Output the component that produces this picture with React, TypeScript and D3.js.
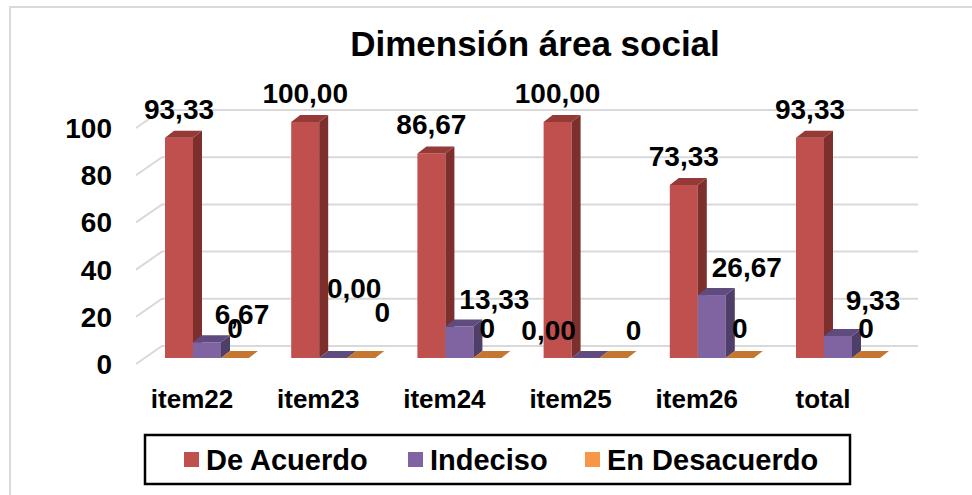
import React from "react";
import * as d3 from "d3";

const categories = ["item22", "item23", "item24", "item25", "item26", "total"];
const deAcuerdo = [93.33, 100.0, 86.67, 100.0, 73.33, 93.33];
const indeciso = [6.67, 0.0, 13.33, 0.0, 26.67, 9.33];
const enDesacuerdo = [0, 0, 0, 0, 0, 0];
const yTicks = [0, 20, 40, 60, 80, 100];
const seriesNames = ["De Acuerdo", "Indeciso", "En Desacuerdo"];

const W = 972;
const H = 495;
const FONT = "'Liberation Sans', Arial, sans-serif";

const colors = [
  { front: "#C0504D", side: "#7D2F2D", top: "#963A37", legend: "#C0504D" },
  { front: "#8064A2", side: "#4F3F68", top: "#5F4B7D", legend: "#8064A2" },
  { front: "#F79646", side: "#B8672A", top: "#C5762F", legend: "#F79646" },
];

// manually dragged label nudges (layout, like in the source chart)
const labelNudge: Record<string, [number, number]> = {
  "item23|1": [-14, -42],
  "item23|2": [21, -16],
  "item25|1": [-72, 0],
  "item25|2": [20, 2],
  "total|1": [0, -8],
};

const fmt2 = (v: number) => v.toFixed(2).replace(".", ",");

export default function App() {
  const x = d3
    .scaleBand<string>()
    .domain(categories)
    .range([128.9, 886.1])
    .padding(0);
  const y = d3.scaleLinear().domain([0, 100]).range([358, 122]);
  const barW = 28;
  const dx = 9;
  const dy = -7;
  const wallOff = -12;
  const base = y(0);

  const series = [deAcuerdo, indeciso, enDesacuerdo];
  const labelFmt = [fmt2, fmt2, (v: number) => String(v)];

  const bars: JSX.Element[] = [];
  const labels: JSX.Element[] = [];

  categories.forEach((c, i) => {
    const cx = (x(c) as number) + x.bandwidth() / 2;
    series.forEach((s, si) => {
      const v = s[i];
      const bx = cx - 27 + si * barW;
      const yt = y(v);
      const col = colors[si];
      const key = `${c}-${si}`;
      if (v > 0) {
        bars.push(
          <g key={key}>
            <rect x={bx} y={yt} width={barW} height={base - yt} fill={col.front} />
            <polygon
              points={`${bx + barW},${yt} ${bx + barW + dx},${yt + dy} ${bx + barW + dx},${base + dy} ${bx + barW},${base}`}
              fill={col.side}
            />
            <polygon
              points={`${bx},${yt} ${bx + dx},${yt + dy} ${bx + barW + dx},${yt + dy} ${bx + barW},${yt}`}
              fill={col.top}
            />
          </g>
        );
      } else {
        bars.push(
          <polygon
            key={key}
            points={`${bx},${base} ${bx + dx},${base + dy} ${bx + barW + dx},${base + dy} ${bx + barW},${base}`}
            fill={col.top}
          />
        );
      }
      let lx: number;
      let ly: number;
      if (si === 0) {
        lx = bx + barW / 2;
        ly = yt - 19;
      } else if (si === 1) {
        lx = bx + barW / 2 + 35;
        ly = yt - 18;
      } else {
        lx = bx + barW / 2;
        ly = base - 20;
      }
      const n = labelNudge[`${c}|${si}`];
      if (n) {
        lx += n[0];
        ly += n[1];
      }
      labels.push(
        <text
          key={`l-${key}`}
          x={lx}
          y={ly}
          textAnchor="middle"
          fontSize={28}
          fontWeight="bold"
          fill="#000"
        >
          {labelFmt[si](v)}
        </text>
      );
    });
  });

  const legendX = [184, 408, 585];

  return (
    <div style={{ position: "absolute", left: 0, top: 0 }}>
      <svg width={W} height={H} style={{ display: "block", fontFamily: FONT }}>
        <rect x={0} y={0} width={W} height={H} fill="#fff" />
        <rect x={10} y={7} width={W + 20} height={H + 20} fill="none" stroke="#D9D9D9" strokeWidth={2} />
        <text x={535} y={56} textAnchor="middle" fontSize={35} fontWeight="bold">
          Dimensión área social
        </text>
        {yTicks.map((t) => {
          const yb = y(t) + wallOff;
          return (
            <g key={`g-${t}`}>
              <path
                d={`M136,${yb + 18} L162,${yb} L918,${yb}`}
                fill="none"
                stroke="#D9D9D9"
                strokeWidth={2}
              />
              <text x={112} y={yb + 28} textAnchor="end" fontSize={28} fontWeight="bold">
                {t}
              </text>
            </g>
          );
        })}
        {bars}
        {labels}
        {categories.map((c) => (
          <text
            key={`x-${c}`}
            x={(x(c) as number) + x.bandwidth() / 2}
            y={408}
            textAnchor="middle"
            fontSize={26}
            fontWeight="bold"
          >
            {c}
          </text>
        ))}
        <rect x={145} y={435} width={705} height={49} fill="none" stroke="#000" strokeWidth={2.5} />
        {seriesNames.map((nm, i) => (
          <g key={`lg-${i}`}>
            <rect x={legendX[i]} y={452} width={15} height={15} fill={colors[i].legend} />
            <text x={legendX[i] + 22} y={470} fontSize={29} fontWeight="bold">
              {nm}
            </text>
          </g>
        ))}
      </svg>
    </div>
  );
}
